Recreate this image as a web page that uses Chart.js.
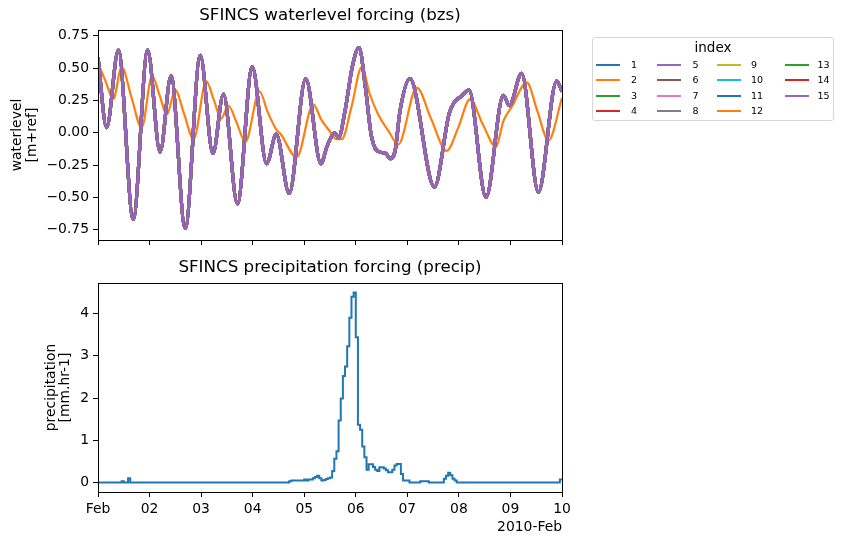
<!DOCTYPE html>
<html>
<head>
<meta charset="utf-8">
<script src="https://cdn.jsdelivr.net/npm/chart.js@4.4.1/dist/chart.umd.min.js"></script>
<style>
  body { margin: 0; background: #fff; width: 844px; height: 544px; position: relative; overflow: hidden; font-family: 'DejaVu Sans', sans-serif; }
  #top { position: absolute; left: 0; top: 0; }
  #bottom { position: absolute; left: 0; top: 250px; }
  #legend { position: absolute; left: 592px; top: 37px; width: 242px; height: 84px; box-sizing: border-box;
            border: 1px solid #d6d6d6; border-radius: 3px; background: #fff; }
  #legend .ttl { position: absolute; left: 0; top: 1px; width: 100%; text-align: center; font-size: 13.5px; line-height: 16px; color: #000; }
  #legend .ln { position: absolute; width: 24px; height: 2px; }
  #legend .lb { position: absolute; font-size: 9.5px; line-height: 12px; color: #000; }
</style>
</head>
<body>
<canvas id="top" width="844" height="272"></canvas>
<canvas id="bottom" width="844" height="294"></canvas>
<div id="legend"></div>
<script>
// tick labels
const dayLabels = ['Feb', '02', '03', '04', '05', '06', '07', '08', '09', '10'];
const waterTicks = [-0.75, -0.5, -0.25, 0, 0.25, 0.5, 0.75];
const precipTicks = [0, 1, 2, 3, 4];

// bzs series names (legend "index")
const seriesNames = ['1', '2', '3', '4', '5', '6', '7', '8', '9', '10', '11', '12', '13', '14', '15'];

// water level of the nearshore points (hours since 2010-02-01 00:00, m+ref)
const mainHours = [0, 4.0, 9.5, 16.4, 23.1, 28.9, 34.0, 40.6, 47.6, 53.5,
  58.4, 64.9, 71.8, 78.5, 83.0, 89.0, 96.7, 103.8, 106.5, 108.7,
  110.3, 112.0, 115.0, 118.5, 121.5, 124.5, 127.0, 129.0, 131.5, 134.0,
  135.9, 138.3, 140.6, 145.2, 156.6, 163.5, 166.0, 169.0, 172.7, 180.6,
  188.7, 191.5, 197.2, 205.0, 213.5, 216];
const mainLevels = [0.58, 0.04, 0.64, -0.67, 0.64, -0.15, 0.44, -0.74, 0.60, -0.16,
  0.30, -0.55, 0.51, -0.24, -0.01, -0.47, 0.42, -0.24, -0.11, -0.03,
  0.0, -0.04, 0.17, 0.52, 0.66, 0.35, 0.0, -0.12, -0.15, -0.16,
  -0.20, -0.14, 0.17, 0.42, -0.42, 0.15, 0.24, 0.28, 0.33, -0.50,
  0.29, 0.21, 0.46, -0.46, 0.40, 0.32];

// water level of point 12 (the smooth, lagged one)
const offHours = [0, 3.5, 7.1, 11.0, 15.5, 20.3, 25.2, 28.5, 32.0, 36.0,
  40.0, 44.5, 50.4, 54.0, 57.3, 60.7, 64.5, 68.6, 75.2, 79.0,
  83.2, 85.0, 92.5, 100.2, 104.0, 108.0, 111.0, 113.5, 118.0, 122.8,
  126.5, 130.5, 135.0, 139.8, 148.4, 155.0, 162.3, 167.7, 173.2, 179.0,
  185.3, 188.7, 192.6, 199.6, 204.5, 209.7, 216];
const offLevels = [0.54, 0.40, 0.26, 0.51, 0.28, 0.04, 0.44, 0.30, 0.14, 0.33,
  0.15, -0.05, 0.40, 0.25, 0.11, 0.21, 0.08, -0.07, 0.32, 0.16,
  0.02, -0.01, -0.19, 0.22, 0.10, 0.01, -0.05, -0.05, 0.20, 0.51,
  0.30, 0.14, 0.02, -0.09, 0.35, 0.11, -0.14, 0.04, 0.26, 0.07,
  -0.11, 0.09, 0.20, 0.39, 0.17, -0.06, 0.27];

// hourly precipitation [mm/hr], one row per day
const precipRate = [
  0, 0, 0, 0, 0, 0, 0, 0, 0, 0, 0, 0.03, 0, 0, 0.1, 0, 0, 0, 0, 0, 0, 0, 0, 0,
  0, 0, 0, 0, 0, 0, 0, 0, 0, 0, 0, 0, 0, 0, 0, 0, 0, 0, 0, 0, 0, 0, 0, 0,
  0, 0, 0, 0, 0, 0, 0, 0, 0, 0, 0, 0, 0, 0, 0, 0, 0, 0, 0, 0, 0, 0, 0, 0,
  0, 0, 0, 0, 0, 0, 0, 0, 0, 0, 0, 0, 0, 0, 0, 0, 0, 0.03, 0.05, 0.05, 0.05, 0.05, 0.05, 0.05,
  0.07, 0.05, 0.07, 0.07, 0.1, 0.13, 0.16, 0.1, 0.05, 0.06, 0.08, 0.1, 0.12, 0.27, 0.56, 0.74, 1.47, 1.99, 2.52, 2.75, 3.23, 3.9, 4.4, 4.5,
  3.44, 1.37, 1.25, 0.85, 0.6, 0.3, 0.43, 0.43, 0.37, 0.3, 0.27, 0.36, 0.36, 0.33, 0.29, 0.24, 0.24, 0.3, 0.4, 0.44, 0.44, 0.2, 0.05, 0.05,
  0.05, 0, 0, 0, 0, 0, 0.03, 0.03, 0.03, 0.03, 0, 0, 0, 0, 0, 0, 0, 0.09, 0.16, 0.23, 0.17, 0.09, 0.05, 0,
  0, 0, 0, 0, 0, 0, 0, 0, 0, 0, 0, 0, 0, 0, 0, 0, 0, 0, 0, 0, 0, 0, 0, 0,
  0, 0, 0, 0, 0, 0, 0, 0, 0, 0, 0, 0, 0, 0, 0, 0, 0, 0, 0, 0, 0, 0, 0, 0.07,
  0.07
];

const palette = ['#1f77b4', '#ff7f0e', '#2ca02c', '#d62728', '#9467bd', '#8c564b', '#e377c2', '#7f7f7f', '#bcbd22', '#17becf'];
const dayHours = dayLabels.map((d, i) => i * 24);

Chart.defaults.font.family = "'DejaVu Sans', sans-serif";
Chart.defaults.font.size = 13.9;
Chart.defaults.color = '#000';

// matplotlib style box around the axes
const frame = {
  id: 'frame',
  afterDraw(chart) {
    const { ctx, chartArea: a } = chart;
    ctx.save();
    ctx.strokeStyle = '#000';
    ctx.lineWidth = 1;
    ctx.strokeRect(Math.round(a.left) + 0.5, Math.round(a.top) + 0.5,
      Math.round(a.right - a.left), Math.round(a.bottom - a.top));
    ctx.restore();
  }
};

const fmt = v => v.toFixed(2).replace('-', '\u2212');
const tickGrid = { drawOnChartArea: false, color: '#000', tickLength: 5, lineWidth: 1 };

// top: waterlevel
const datasets = seriesNames.map((name, i) => {
  const isOff = name === '12';
  const hrs = isOff ? offHours : mainHours;
  const lv = isOff ? offLevels : mainLevels;
  return {
    label: name,
    data: hrs.map((h, k) => ({ x: h, y: lv[k] })),
    borderColor: palette[i % 10],
    borderWidth: isOff ? 2.2 : 3.2,
    cubicInterpolationMode: 'monotone',
    pointRadius: 0,
    fill: false,
    order: seriesNames.length - i
  };
});

new Chart(document.getElementById('top'), {
  type: 'line',
  data: { datasets: datasets },
  options: {
    responsive: false,
    animation: false,
    layout: { padding: { left: 0, right: 282, top: 0, bottom: 0 } },
    plugins: {
      legend: { display: false },
      tooltip: { enabled: false },
      title: {
        display: true, text: 'SFINCS waterlevel forcing (bzs)', fullSize: false,
        font: { size: 16.7, weight: 'normal', lineHeight: 1.2 }, color: '#000',
        padding: { top: 6, bottom: 4 }
      }
    },
    scales: {
      x: {
        type: 'linear', min: 0, max: 216,
        afterBuildTicks: s => { s.ticks = dayHours.map(v => ({ value: v })); },
        ticks: { display: false },
        grid: tickGrid,
        border: { display: false },
        afterFit: s => { s.height = 32; }
      },
      y: {
        min: -0.83, max: 0.795,
        afterBuildTicks: s => { s.ticks = waterTicks.map(v => ({ value: v })); },
        ticks: { callback: v => fmt(v), padding: 4, color: '#000' },
        grid: tickGrid,
        border: { display: false },
        title: {
          display: true, text: ['waterlevel', '[m+ref]'], color: '#000',
          font: { size: 13.9, lineHeight: 1.05 }, padding: { top: 10, bottom: 0 }
        },
        afterFit: s => { s.width = 98; }
      }
    }
  },
  plugins: [frame]
});

// bottom: precipitation
new Chart(document.getElementById('bottom'), {
  type: 'line',
  data: {
    datasets: [{
      label: 'precip',
      data: precipRate.map((v, h) => ({ x: h, y: v })),
      borderColor: '#1f77b4',
      borderWidth: 2,
      stepped: 'before',
      pointRadius: 0,
      fill: false
    }]
  },
  options: {
    responsive: false,
    animation: false,
    layout: { padding: { left: 0, right: 282, top: 0, bottom: 0 } },
    plugins: {
      legend: { display: false },
      tooltip: { enabled: false },
      title: {
        display: true, text: 'SFINCS precipitation forcing (precip)', fullSize: false,
        font: { size: 16.7, weight: 'normal', lineHeight: 1.2 }, color: '#000',
        padding: { top: 8, bottom: 5 }
      }
    },
    scales: {
      x: {
        type: 'linear', min: 0, max: 216,
        afterBuildTicks: s => { s.ticks = dayHours.map(v => ({ value: v })); },
        ticks: { callback: (v, i) => dayLabels[i], autoSkip: false, maxRotation: 0, padding: 4, color: '#000' },
        grid: tickGrid,
        border: { display: false },
        title: {
          display: true, text: '2010-Feb', align: 'end', color: '#000',
          font: { size: 13.9, lineHeight: 1.2 }, padding: { top: 0, bottom: 8.7 }
        },
        afterFit: s => { s.height = 52; }
      },
      y: {
        min: -0.225, max: 4.725,
        afterBuildTicks: s => { s.ticks = precipTicks.map(v => ({ value: v })); },
        ticks: { callback: v => String(v), padding: 4, color: '#000' },
        grid: tickGrid,
        border: { display: false },
        title: {
          display: true, text: ['precipitation', '[mm.hr-1]'], color: '#000',
          font: { size: 13.9, lineHeight: 1.05 }, padding: { top: 43.7, bottom: 0 }
        },
        afterFit: s => { s.width = 98; }
      }
    }
  },
  plugins: [frame]
});

// legend box, filled column by column like matplotlib (4 rows)
const legend = document.getElementById('legend');
const ttl = document.createElement('div');
ttl.className = 'ttl';
ttl.textContent = 'index';
legend.appendChild(ttl);
const colLine = [3, 64, 124, 192];
const colText = [38, 99.5, 158, 224.5];
seriesNames.forEach((name, i) => {
  const col = Math.floor(i / 4), row = i % 4;
  const cy = 26.5 + row * 15.5;
  const ln = document.createElement('div');
  ln.className = 'ln';
  ln.style.left = colLine[col] + 'px';
  ln.style.top = (cy - 1) + 'px';
  ln.style.background = palette[i % 10];
  legend.appendChild(ln);
  const lb = document.createElement('div');
  lb.className = 'lb';
  lb.style.left = colText[col] + 'px';
  lb.style.top = (cy - 6) + 'px';
  lb.textContent = name;
  legend.appendChild(lb);
});
</script>
</body>
</html>
